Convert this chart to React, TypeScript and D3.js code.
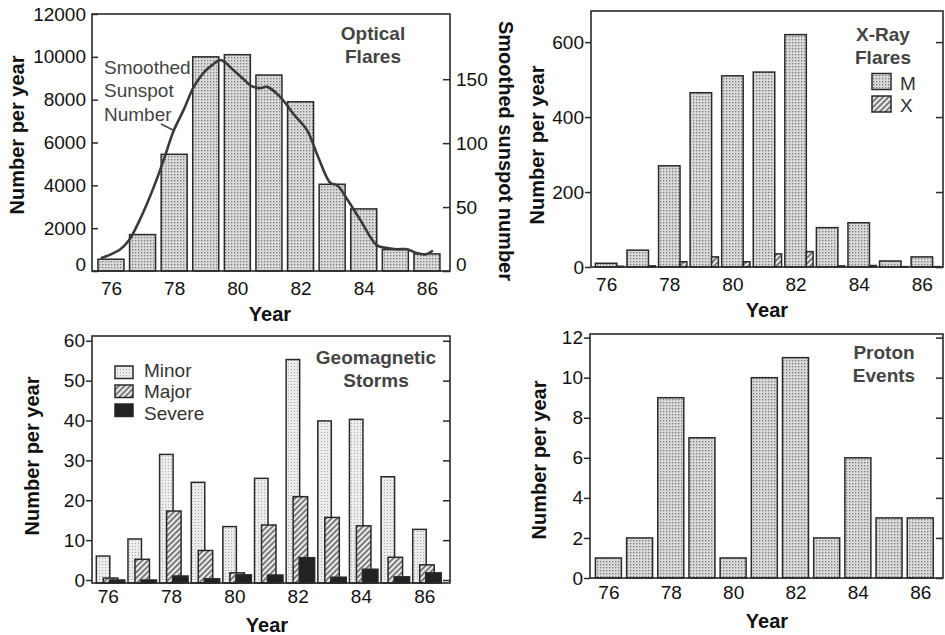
import React, { useEffect, useRef } from 'react';
import * as d3 from 'd3';

// years 1976..1986 (two-digit labels)
const years = [76, 77, 78, 79, 80, 81, 82, 83, 84, 85, 86];
const xTicks = [76, 78, 80, 82, 84, 86];

// Optical flares per year
const opticalFlares = [550, 1700, 5450, 10000, 10100, 9150, 7900, 4050, 2900, 1000, 800];
const opticalTicks = [0, 2000, 4000, 6000, 8000, 10000, 12000];

// smoothed sunspot number
const sunspotYear = [75.68, 76.0, 76.3, 76.57, 76.95, 77.36, 77.67, 77.99, 78.3, 78.62, 78.93, 79.2, 79.47, 79.88, 80.2, 80.42, 80.7, 80.95, 81.36, 81.77, 82.21, 82.56, 82.94, 83.16, 83.48, 83.89, 84.42, 84.74, 85.05, 85.37, 85.68, 85.95, 86.19];
const sunspotValue = [10, 13, 17, 24, 42, 66, 87, 110, 126, 144, 155, 161, 165, 157, 150, 145, 143, 144, 136, 123, 110, 89, 69, 67, 56, 40, 20, 18, 17, 17, 14, 13, 16];
const sunspotTicks = [0, 50, 100, 150];

// X-ray flares
const xrayM = [10, 45, 270, 465, 510, 520, 620, 105, 118, 16, 27];
const xrayX = [2, 3, 14, 27, 14, 35, 41, 3, 4, 1, 1];
const xrayTicks = [0, 200, 400, 600];

// Geomagnetic storms
const stormMinor = [6, 10.3, 31.5, 24.5, 13.4, 25.5, 55.3, 39.9, 40.3, 25.9, 12.7];
const stormMajor = [0.5, 5.2, 17.3, 7.4, 1.8, 13.8, 20.9, 15.7, 13.6, 5.7, 3.8];
const stormSevere = [0, 0, 1, 0.3, 1.3, 1.25, 5.6, 0.7, 2.7, 0.8, 1.8];
const stormTicks = [0, 10, 20, 30, 40, 50, 60];

// Proton events
const protonEvents = [1, 2, 9, 7, 1, 10, 11, 2, 6, 3, 3];
const protonTicks = [0, 2, 4, 6, 8, 10, 12];

const FONT = "'Liberation Sans', Arial, Helvetica, sans-serif";
const INK = '#2a2a2a';
const TITLE = '#444';
const fmt = d3.format('d');

type Box = { left: number; right: number; top: number; bottom: number };

function styleAxis(g: any, size = 19) {
  g.select('.domain').remove();
  g.selectAll('line').attr('stroke', INK).attr('stroke-width', 1.5);
  g.selectAll('text').attr('font-size', size).attr('font-family', FONT).attr('fill', '#111');
}

function frame(svg: any, b: Box) {
  svg.append('rect')
    .attr('x', b.left).attr('y', b.top)
    .attr('width', b.right - b.left).attr('height', b.bottom - b.top)
    .attr('fill', 'none').attr('stroke', INK).attr('stroke-width', 1.6);
}

function text(svg: any, x: number, y: number, s: string, opts: any = {}) {
  const t = svg.append('text')
    .attr('x', x).attr('y', y)
    .attr('font-family', FONT)
    .attr('font-size', opts.size || 19)
    .attr('font-weight', opts.bold ? 'bold' : 'normal')
    .attr('fill', opts.fill || '#111')
    .attr('text-anchor', opts.anchor || 'middle')
    .text(s);
  if (opts.rotate) t.attr('transform', `rotate(${opts.rotate},${x},${y})`);
  return t;
}

function xAxis(svg: any, x: any, b: Box, pad: number) {
  const g = svg.append('g')
    .attr('transform', `translate(0,${b.bottom})`)
    .call(d3.axisBottom(x).tickValues(xTicks).tickSize(0).tickPadding(pad).tickFormat(fmt));
  styleAxis(g);
}

function yAxes(svg: any, y: any, ticks: number[], b: Box, inwardLeft: boolean, withRight: boolean) {
  const left = svg.append('g')
    .attr('transform', `translate(${b.left},0)`)
    .call(d3.axisLeft(y).tickValues(ticks).tickFormat(fmt)
      .tickSize(inwardLeft ? -6 : 6).tickPadding(inwardLeft ? 6 : 1));
  styleAxis(left);
  if (withRight) {
    const right = svg.append('g')
      .attr('transform', `translate(${b.right},0)`)
      .call(d3.axisRight(y).tickValues(ticks).tickSize(-7).tickFormat(() => ''));
    styleAxis(right);
  }
  return left;
}

export default function App() {
  const svgRef = useRef<SVGSVGElement>(null);

  useEffect(() => {
    const svg = d3.select(svgRef.current);
    svg.selectAll('*').remove();

    const defs = svg.append('defs');
    const dots = defs.append('pattern').attr('id', 'dots')
      .attr('width', 3).attr('height', 3).attr('patternUnits', 'userSpaceOnUse');
    dots.append('rect').attr('width', 3).attr('height', 3).attr('fill', '#d9d9d9');
    dots.append('rect').attr('width', 1.3).attr('height', 1.3).attr('fill', '#7c7c7c');

    const light = defs.append('pattern').attr('id', 'lightdots')
      .attr('width', 3).attr('height', 3).attr('patternUnits', 'userSpaceOnUse');
    light.append('rect').attr('width', 3).attr('height', 3).attr('fill', '#ececec');
    light.append('rect').attr('width', 1).attr('height', 1).attr('fill', '#a8a8a8');

    const hatch = defs.append('pattern').attr('id', 'hatch')
      .attr('width', 4).attr('height', 4).attr('patternUnits', 'userSpaceOnUse')
      .attr('patternTransform', 'rotate(45)');
    hatch.append('rect').attr('width', 4).attr('height', 4).attr('fill', '#ececec');
    hatch.append('line').attr('x1', 1).attr('y1', 0).attr('x2', 1).attr('y2', 4)
      .attr('stroke', '#4a4a4a').attr('stroke-width', 1.4);

    const barStroke = (sel: any) => sel.attr('stroke', INK).attr('stroke-width', 1.5);

    // ---------- Optical flares ----------
    {
      const b: Box = { left: 92, right: 450, top: 14, bottom: 271 };
      const x = d3.scaleLinear().domain([75.4, 86.73]).range([b.left, b.right]);
      const y = d3.scaleLinear().domain([0, 12000]).range([b.bottom, b.top]);
      const ySun = d3.scaleLinear().domain([0, 201]).range([b.bottom, b.top]);
      const w = 26;
      svg.append('g').selectAll('rect').data(years).enter().append('rect')
        .attr('x', d => x(d) - w / 2).attr('width', w)
        .attr('y', (d, i) => y(opticalFlares[i]))
        .attr('height', (d, i) => b.bottom - y(opticalFlares[i]))
        .attr('fill', 'url(#dots)').call(barStroke);

      const line = d3.line<number>()
        .x((d, i) => x(sunspotYear[i]))
        .y(d => ySun(d))
        .curve(d3.curveCatmullRom);
      svg.append('path').attr('d', line(sunspotValue))
        .attr('fill', 'none').attr('stroke', '#3a3a3a').attr('stroke-width', 2.6);

      frame(svg, b);
      const left = yAxes(svg, y, opticalTicks, b, true, false);
      left.selectAll('text').filter((d: any) => d === 0).attr('dy', '-0.05em');
      const right = svg.append('g')
        .attr('transform', `translate(${b.right},0)`)
        .call(d3.axisRight(ySun).tickValues(sunspotTicks).tickFormat(fmt).tickSize(-7).tickPadding(6));
      styleAxis(right);
      right.selectAll('text').filter((d: any) => d === 0).attr('dy', '-0.05em');
      xAxis(svg, x, b, 11);

      text(svg, 373, 40, 'Optical', { bold: true, fill: TITLE });
      text(svg, 373, 63, 'Flares', { bold: true, fill: TITLE });
      ['Smoothed', 'Sunspot', 'Number'].forEach((s, i) =>
        text(svg, 104, 74 + i * 23.3, s, { anchor: 'start', fill: '#444' }));
      svg.append('line').attr('x1', 161).attr('y1', 124).attr('x2', 173).attr('y2', 130)
        .attr('stroke', '#444').attr('stroke-width', 1.5);

      text(svg, 24, 135, 'Number per year', { bold: true, size: 20, rotate: -90 });
      text(svg, 499, 151, 'Smoothed sunspot number', { bold: true, size: 20, rotate: 90 });
      text(svg, 270, 321, 'Year', { bold: true, size: 20 });
    }

    // ---------- X-ray flares ----------
    {
      const b: Box = { left: 591, right: 943, top: 11, bottom: 267 };
      const x = d3.scaleLinear().domain([75.52, 86.67]).range([b.left, b.right]);
      const y = d3.scaleLinear().domain([0, 683]).range([b.bottom, b.top]);
      const wM = 21.5;
      const wX = 6.8;
      svg.append('g').selectAll('rect').data(years).enter().append('rect')
        .attr('x', d => x(d) - wM / 2).attr('width', wM)
        .attr('y', (d, i) => y(xrayM[i]))
        .attr('height', (d, i) => b.bottom - y(xrayM[i]))
        .attr('fill', 'url(#dots)').call(barStroke);
      svg.append('g').selectAll('rect').data(years).enter().append('rect')
        .attr('x', d => x(d) + wM / 2).attr('width', wX)
        .attr('y', (d, i) => y(xrayX[i]))
        .attr('height', (d, i) => b.bottom - y(xrayX[i]))
        .attr('fill', 'url(#hatch)').call(barStroke);

      frame(svg, b);
      yAxes(svg, y, xrayTicks, b, false, true);
      xAxis(svg, x, b, 11);

      text(svg, 883, 41, 'X-Ray', { bold: true, fill: TITLE });
      text(svg, 883, 64, 'Flares', { bold: true, fill: TITLE });
      svg.append('rect').attr('x', 872).attr('y', 73.5).attr('width', 19).attr('height', 16)
        .attr('fill', 'url(#dots)').call(barStroke);
      svg.append('rect').attr('x', 872).attr('y', 96).attr('width', 19).attr('height', 16)
        .attr('fill', 'url(#hatch)').call(barStroke);
      text(svg, 900, 90, 'M', { anchor: 'start', fill: '#333' });
      text(svg, 900, 112, 'X', { anchor: 'start', fill: '#333' });

      text(svg, 544, 145, 'Number per year', { bold: true, size: 20, rotate: -90 });
      text(svg, 767, 317, 'Year', { bold: true, size: 20 });
    }

    // ---------- Geomagnetic storms ----------
    {
      const b: Box = { left: 92, right: 450, top: 336, bottom: 583 };
      const x = d3.scaleLinear().domain([75.5, 86.815]).range([b.left, b.right]);
      const y = d3.scaleLinear().domain([-0.75, 61.2]).range([b.bottom, b.top]);
      const series = [
        { values: stormMinor, dx: -11.5, w: 13.5, fill: 'url(#lightdots)' },
        { values: stormMajor, dx: -4.5, w: 14.5, fill: 'url(#hatch)' },
        { values: stormSevere, dx: 1.5, w: 15.5, fill: '#222' },
      ];
      series.forEach(s => {
        svg.append('g').selectAll('rect').data(years).enter().append('rect')
          .attr('x', d => x(d) + s.dx).attr('width', s.w)
          .attr('y', (d, i) => y(s.values[i]))
          .attr('height', (d, i) => b.bottom - y(s.values[i]))
          .attr('fill', s.fill).call(barStroke);
      });

      frame(svg, b);
      yAxes(svg, y, stormTicks, b, false, true);
      xAxis(svg, x, b, 7);

      text(svg, 376, 364, 'Geomagnetic', { bold: true, fill: TITLE });
      text(svg, 376, 387, 'Storms', { bold: true, fill: TITLE });
      const legend = [
        { label: 'Minor', fill: 'url(#lightdots)', y0: 366, base: 377 },
        { label: 'Major', fill: 'url(#hatch)', y0: 385, base: 397.5 },
        { label: 'Severe', fill: '#222', y0: 404, base: 420 },
      ];
      legend.forEach(l => {
        svg.append('rect').attr('x', 115).attr('y', l.y0).attr('width', 18).attr('height', 12.5)
          .attr('fill', l.fill).call(barStroke);
        text(svg, 144, l.base, l.label, { anchor: 'start', fill: '#333' });
      });

      text(svg, 39, 456, 'Number per year', { bold: true, size: 20, rotate: -90 });
      text(svg, 267, 632, 'Year', { bold: true, size: 20 });
    }

    // ---------- Proton events ----------
    {
      const b: Box = { left: 590, right: 943, top: 334, bottom: 578 };
      const x = d3.scaleLinear().domain([75.41, 86.73]).range([b.left, b.right]);
      const y = d3.scaleLinear().domain([0, 12.18]).range([b.bottom, b.top]);
      const w = 26;
      svg.append('g').selectAll('rect').data(years).enter().append('rect')
        .attr('x', d => x(d) - w / 2).attr('width', w)
        .attr('y', (d, i) => y(protonEvents[i]))
        .attr('height', (d, i) => b.bottom - y(protonEvents[i]))
        .attr('fill', 'url(#dots)').call(barStroke);

      frame(svg, b);
      yAxes(svg, y, protonTicks, b, false, true);
      xAxis(svg, x, b, 8);

      text(svg, 884, 359, 'Proton', { bold: true, fill: TITLE });
      text(svg, 884, 382, 'Events', { bold: true, fill: TITLE });

      text(svg, 546, 460, 'Number per year', { bold: true, size: 20, rotate: -90 });
      text(svg, 767, 628, 'Year', { bold: true, size: 20 });
    }
  }, []);

  return (
    <svg
      ref={svgRef}
      width={945}
      height={635}
      style={{ position: 'absolute', left: 0, top: 0, background: '#fff' }}
    />
  );
}
